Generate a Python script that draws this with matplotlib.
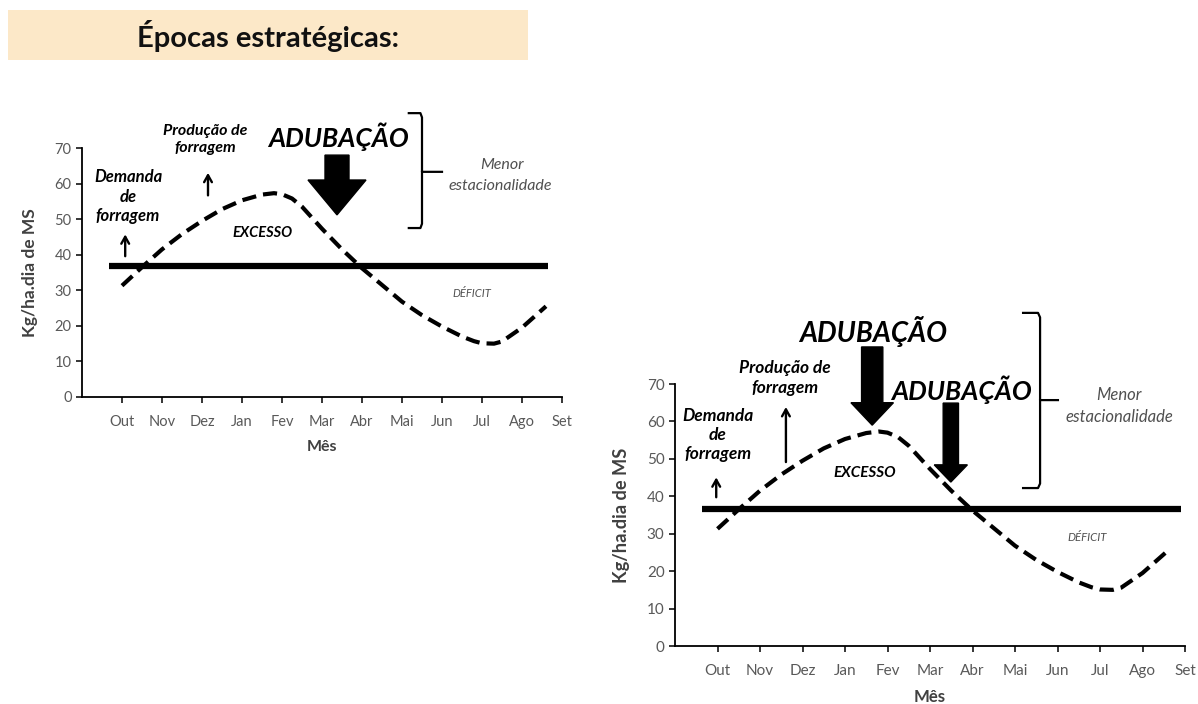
import matplotlib
matplotlib.use("Agg")
import matplotlib.pyplot as plt
from matplotlib.patches import Rectangle

plt.rcParams['font.family'] = ['Lato', 'DejaVu Sans']

# ---- data -------------------------------------------------------------
months = ['Out', 'Nov', 'Dez', 'Jan', 'Fev', 'Mar', 'Abr', 'Mai', 'Jun',
          'Jul', 'Ago', 'Set']
month_pos = list(range(1, 13))
y_ticks = [0, 10, 20, 30, 40, 50, 60, 70]

# forage production through the year (month index, kg/ha.dia de MS)
producao_x = [1.0, 1.5, 2.0, 2.5, 3.0, 3.5, 4.0, 4.5, 4.8, 5.0, 5.25, 5.5,
              6.0, 6.5, 7.0, 7.5, 8.0, 8.5, 9.0, 9.5, 9.8, 10.0, 10.3,
              10.5, 11.0, 11.6]
producao_y = [31.3, 36.5, 41.5, 45.8, 49.5, 52.8, 55.3, 56.9, 57.3, 57.0,
              55.8, 53.5, 47.3, 41.5, 36.2, 31.5, 26.8, 23.0, 19.8, 17.0,
              15.7, 15.1, 15.0, 15.6, 19.5, 25.5]

# forage demand of the herd (constant)
demanda = 36.7

TICK_COLOR = '#595959'
LABEL_COLOR = '#404040'
NOTE_COLOR = '#505050'


def base_chart(ax, line_span, scale=1.0):
    ax.set_xlim(0, 12)
    ax.set_ylim(0, 70)
    for side in ('top', 'right'):
        ax.spines[side].set_visible(False)
    for side in ('left', 'bottom'):
        ax.spines[side].set_linewidth(1.3)
        ax.spines[side].set_color('black')
    ax.set_xticks(month_pos)
    ax.set_xticklabels(months)
    ax.set_yticks(y_ticks)
    ax.tick_params(axis='both', direction='out', length=4, width=1.1,
                   colors='black', labelcolor=TICK_COLOR,
                   labelsize=10.5 * scale)
    ax.tick_params(axis='x', pad=9)
    ax.set_xlabel('Mês', fontsize=11.5 * scale, fontweight='bold',
                  color=LABEL_COLOR, labelpad=8)
    ax.set_ylabel('Kg/ha.dia de MS', fontsize=12.5 * scale,
                  fontweight='bold', color=LABEL_COLOR, labelpad=12)
    ax.patch.set_visible(False)

    ax.plot(line_span, [demanda, demanda], color='black', lw=4.5,
            solid_capstyle='butt', clip_on=False, zorder=3)
    ax.plot(producao_x, producao_y, color='black', lw=3.0,
            dashes=(3.4, 1.7), clip_on=False, zorder=3)


def small_arrow(ax, x, y0, y1):
    ax.annotate('', xy=(x, y1), xytext=(x, y0),
                arrowprops=dict(arrowstyle='->,head_length=0.5,head_width=0.28',
                                lw=1.7, color='black'),
                annotation_clip=False)


def block_arrow(ax, x, top, tip, width, head_width, head_length):
    ax.arrow(x, top, 0, tip - top, width=width, head_width=head_width,
             head_length=head_length, length_includes_head=True,
             color='black', clip_on=False, zorder=4)


def bracket(ax, x, top, bottom, mid, hook, nub):
    r = 0.12 * hook
    ax.plot([x - hook, x - r, x, x, x + nub], [top, top, top - 1.2, mid, mid],
            color='black', lw=1.6, clip_on=False, solid_joinstyle='round')
    ax.plot([x, x, x - r, x - hook], [mid, bottom + 1.2, bottom, bottom],
            color='black', lw=1.6, clip_on=False, solid_joinstyle='round')


def note(ax, x, y, s, size, bold=True, color='black', italic=True, ls=1.25):
    ax.text(x, y, s, ha='center', va='center', fontsize=size,
            fontweight='bold' if bold else 'normal',
            fontstyle='italic' if italic else 'normal', color=color,
            linespacing=ls, clip_on=False)


fig = plt.figure(figsize=(11.98, 7.04), dpi=100)

# title banner
fig.patches.append(Rectangle((8 / 1198, 1 - 60 / 704), 520 / 1198, 50 / 704,
                             transform=fig.transFigure, facecolor='#fce8c8',
                             edgecolor='none', zorder=0))
fig.text(268 / 1198, 1 - 36 / 704, 'Épocas estratégicas:', ha='center',
         va='center', fontsize=21, fontweight='bold', color='#111111')

# ---- left chart: one fertilization -------------------------------------
ax1 = fig.add_axes([82 / 1198, 1 - 397 / 704, 480 / 1198, 249 / 704])
base_chart(ax1, [0.68, 11.66])
note(ax1, 1.15, 56.3, 'Demanda\nde\nforragem', 12)
small_arrow(ax1, 1.08, 38.8, 46.5)
note(ax1, 3.08, 72.3, 'Produção de\nforragem', 11.5)
small_arrow(ax1, 3.15, 55.9, 63.8)
note(ax1, 6.4, 73.3, 'ADUBAÇÃO', 19)
block_arrow(ax1, 6.375, 68.0, 51.2, 0.6, 1.45, 9.8)
bracket(ax1, 8.5, 79.8, 47.5, 63.3, 0.33, 0.5)
note(ax1, 10.5, 65.2, 'Menor', 11.5, bold=False, color=NOTE_COLOR)
note(ax1, 10.45, 59.4, 'estacionalidade', 11.5, bold=False, color=NOTE_COLOR)
note(ax1, 4.52, 46.1, 'EXCESSO', 10.5)
note(ax1, 9.75, 29.0, 'DÉFICIT', 8, bold=False, color=NOTE_COLOR)

# ---- right chart: split fertilization ----------------------------------
ax2 = fig.add_axes([675 / 1198, 1 - 646 / 704, 510 / 1198, 262 / 704])
base_chart(ax2, [0.64, 11.9], scale=1.05)
note(ax2, 1.01, 56.4, 'Demanda\nde\nforragem', 12.5)
small_arrow(ax2, 0.97, 39.0, 45.8)
note(ax2, 2.59, 71.6, 'Produção de\nforragem', 12.5)
small_arrow(ax2, 2.61, 48.4, 64.6)
note(ax2, 4.66, 83.9, 'ADUBAÇÃO', 20)
block_arrow(ax2, 4.64, 79.9, 59.0, 0.5, 1.0, 6.0)
note(ax2, 6.75, 68.4, 'ADUBAÇÃO', 19)
block_arrow(ax2, 6.49, 64.9, 43.8, 0.36, 0.78, 4.6)
bracket(ax2, 8.59, 89.0, 42.2, 65.7, 0.4, 0.42)
note(ax2, 10.45, 67.1, 'Menor', 12, bold=False, color=NOTE_COLOR)
note(ax2, 10.45, 61.2, 'estacionalidade', 12, bold=False, color=NOTE_COLOR)
note(ax2, 4.47, 46.2, 'EXCESSO', 11)
note(ax2, 9.69, 28.9, 'DÉFICIT', 8.2, bold=False, color=NOTE_COLOR)

fig.savefig('out.png', dpi=100, facecolor='white')
